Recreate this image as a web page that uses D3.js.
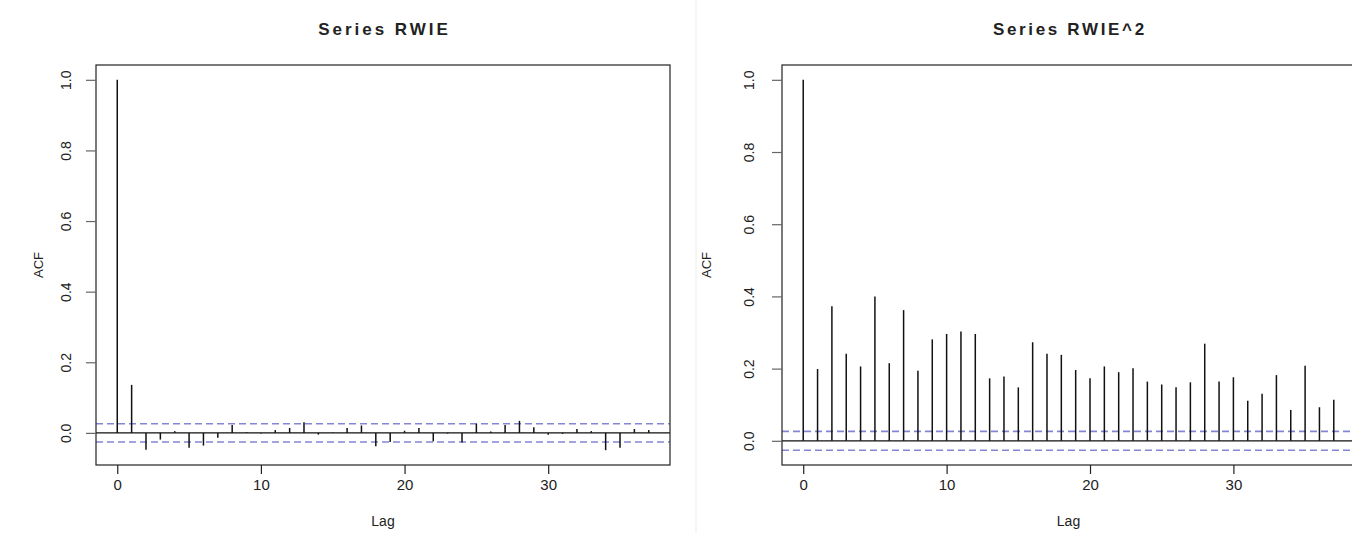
<!DOCTYPE html>
<html>
<head>
<meta charset="utf-8">
<script src="https://cdn.jsdelivr.net/npm/d3@7"></script>
<style>
  body { margin: 0; background: #fff; }
  svg text { font-family: "Liberation Sans", Arial, sans-serif; fill: #222; }
</style>
</head>
<body>
<div id="container"></div>
<script>
const width = 1352;
const height = 533;

// lags 0..37
const lags = d3.range(0, 38);

// ACF of RWIE
const acfLeft = [1.0, 0.136, -0.048, -0.019, 0.005, -0.042, -0.036, -0.014, 0.022, 0.002,
    -0.002, 0.008, 0.014, 0.030, -0.005, 0.001, 0.014, 0.021, -0.038, -0.026,
    0.006, 0.014, -0.024, -0.002, -0.027, 0.026, 0.004, 0.022, 0.034, 0.016,
    -0.005, -0.003, 0.011, 0.005, -0.049, -0.042, 0.011, 0.008];

// ACF of RWIE^2
const acfRight = [1.0, 0.199, 0.373, 0.241, 0.206, 0.400, 0.215, 0.362, 0.194, 0.281,
    0.296, 0.303, 0.296, 0.173, 0.178, 0.148, 0.273, 0.241, 0.238, 0.196,
    0.173, 0.206, 0.190, 0.201, 0.164, 0.156, 0.148, 0.162, 0.269, 0.164,
    0.176, 0.111, 0.130, 0.182, 0.085, 0.208, 0.093, 0.114];

const confLimit = 0.026;
const yTicks = [0, 0.2, 0.4, 0.6, 0.8, 1.0];
const xTicks = [0, 10, 20, 30];

const panels = [
    { title: "Series  RWIE", values: acfLeft, left: 96, right: 670, yAxisX: 67, labelX: 40 },
    { title: "Series  RWIE^2", values: acfRight, left: 782, right: 1355, yAxisX: 750, labelX: 708 }
];

const svg = d3.select("#container")
    .append("svg")
    .attr("width", width)
    .attr("height", height);

// faint divider between the two pictures
svg.append("line")
    .attr("x1", 696).attr("x2", 696)
    .attr("y1", 0).attr("y2", height)
    .attr("stroke", "#ececec");

const boxTop = 65, boxBottom = 465;

panels.forEach(p => {
    const ymin = Math.min(d3.min(p.values), -confLimit);
    const ymax = Math.max(d3.max(p.values), confLimit);
    const ext = (ymax - ymin) * 0.04;

    const x = d3.scaleLinear()
        .domain([0 - 37 * 0.04, 37 + 37 * 0.04])
        .range([p.left, p.right]);

    const y = d3.scaleLinear()
        .domain([ymin - ext, ymax + ext])
        .range([boxBottom, boxTop]);

    const g = svg.append("g");

    // dashed confidence bands
    g.selectAll("line.conf")
        .data([confLimit, -confLimit])
        .join("line")
        .attr("class", "conf")
        .attr("x1", p.left).attr("x2", p.right)
        .attr("y1", d => y(d)).attr("y2", d => y(d))
        .attr("stroke", "#8585d6")
        .attr("stroke-width", 1.6)
        .attr("stroke-dasharray", "7,4");

    // zero line
    g.append("line")
        .attr("x1", p.left).attr("x2", p.right)
        .attr("y1", y(0)).attr("y2", y(0))
        .attr("stroke", "#111")
        .attr("stroke-width", 1.2);

    // spikes
    g.selectAll("line.bar")
        .data(lags)
        .join("line")
        .attr("class", "bar")
        .attr("x1", d => x(d)).attr("x2", d => x(d))
        .attr("y1", y(0))
        .attr("y2", d => y(p.values[d]))
        .attr("stroke", "#111")
        .attr("stroke-width", 1.5);

    // box
    g.append("rect")
        .attr("x", p.left).attr("y", boxTop)
        .attr("width", p.right - p.left)
        .attr("height", boxBottom - boxTop)
        .attr("fill", "none")
        .attr("stroke", "#222")
        .attr("stroke-width", 1.2);

    // x axis
    const xAxis = g.append("g")
        .attr("transform", `translate(0,${boxBottom})`)
        .call(d3.axisBottom(x).tickValues(xTicks).tickSize(9).tickPadding(5).tickFormat(d3.format("d")));
    xAxis.select(".domain").remove();
    xAxis.selectAll("line").attr("stroke", "#222").attr("stroke-width", 1.2);
    xAxis.selectAll("text").attr("font-size", 15).attr("fill", "#333");

    // y axis, labels turned like R
    const yAxis = g.append("g")
        .attr("transform", `translate(${p.left},0)`)
        .call(d3.axisLeft(y).tickValues(yTicks).tickSize(10).tickFormat(d3.format(".1f")));
    yAxis.select(".domain").remove();
    yAxis.selectAll("line").attr("stroke", "#666").attr("stroke-width", 1.2);
    yAxis.selectAll("text")
        .attr("font-size", 14)
        .attr("fill", "#444")
        .attr("x", null).attr("dy", null)
        .attr("text-anchor", "middle")
        .attr("transform", `translate(${p.yAxisX - p.left},0) rotate(-90)`)
        .attr("dominant-baseline", "middle");

    // titles and axis labels
    const cx = (p.left + p.right) / 2;
    g.append("text")
        .attr("x", cx).attr("y", 35)
        .attr("text-anchor", "middle")
        .attr("font-size", 17)
        .attr("font-weight", "bold")
        .attr("textLength", p.title.length * 10.8)
        .attr("lengthAdjust", "spacing")
        .text(p.title);

    g.append("text")
        .attr("x", cx).attr("y", 526)
        .attr("text-anchor", "middle")
        .attr("font-size", 14)
        .attr("fill", "#333")
        .text("Lag");

    g.append("text")
        .attr("transform", `translate(${p.labelX},${(boxTop + boxBottom) / 2}) rotate(-90)`)
        .attr("text-anchor", "middle")
        .attr("dominant-baseline", "middle")
        .attr("font-size", 13)
        .attr("fill", "#444")
        .text("ACF");
});
</script>
</body>
</html>
